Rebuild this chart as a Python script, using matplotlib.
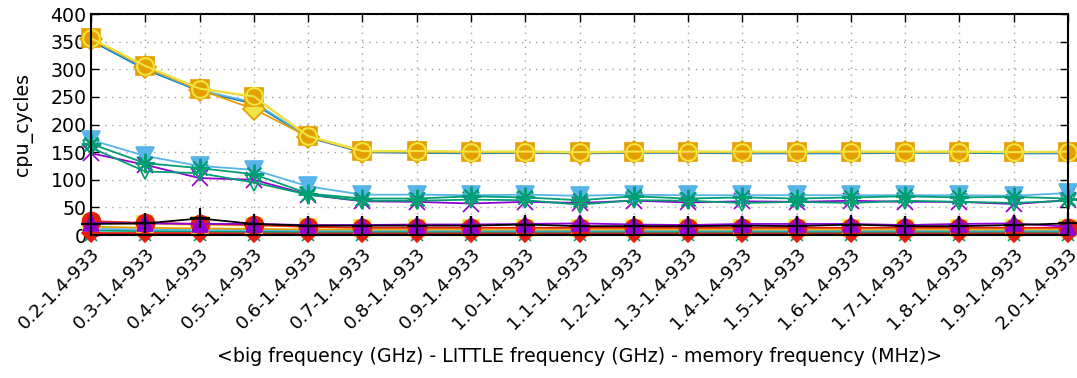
import matplotlib
matplotlib.use("Agg")
import matplotlib.pyplot as plt
import numpy as np

categories = ['0.2-1.4-933', '0.3-1.4-933', '0.4-1.4-933', '0.5-1.4-933', '0.6-1.4-933',
              '0.7-1.4-933', '0.8-1.4-933', '0.9-1.4-933', '1.0-1.4-933', '1.1-1.4-933',
              '1.2-1.4-933', '1.3-1.4-933', '1.4-1.4-933', '1.5-1.4-933', '1.6-1.4-933',
              '1.7-1.4-933', '1.8-1.4-933', '1.9-1.4-933', '2.0-1.4-933']

# top group
top_darkblue = [352, 300, 261, 238, 177, 150, 149, 148, 149, 148, 149, 149, 148, 148, 148, 149, 149, 148, 148]
top_lightblue = [354, 302, 262, 240, 178, 151, 150, 149, 150, 149, 150, 150, 149, 149, 149, 150, 150, 149, 149]
top_diamond = [355, 304, 263, 228, 178, 151, 151, 150, 150, 149, 150, 150, 150, 150, 150, 150, 150, 150, 150]
top_square = [356, 305, 265, 250, 179, 152, 152, 150, 151, 150, 151, 151, 150, 150, 151, 150, 151, 150, 150]
top_circle = [356, 306, 265, 251, 179, 152, 152, 151, 151, 150, 151, 151, 151, 151, 151, 151, 151, 150, 151]

# middle group
mid_lightblue = [172, 143, 125, 118, 88, 73, 73, 72, 73, 71, 73, 72, 72, 72, 72, 72, 72, 71, 76]
mid_green_star = [165, 130, 121, 110, 75, 66, 66, 70, 68, 63, 70, 66, 68, 66, 68, 70, 68, 69, 66]
mid_green_tri = [158, 115, 112, 95, 73, 62, 62, 64, 63, 55, 63, 62, 58, 60, 58, 62, 60, 58, 62]
mid_purple_x = [148, 127, 103, 100, 73, 61, 60, 57, 60, 58, 62, 59, 61, 60, 62, 60, 60, 56, 63]

# bottom group
low_black_plus = [20, 21, 30, 20, 17, 17, 17, 17, 19, 16, 16, 16, 17, 16, 19, 16, 16, 18, 21]
low_purple_tri = [22, 21, 20, 20, 18, 18, 19, 19, 20, 21, 19, 18, 20, 20, 20, 18, 20, 21, 15]
low_red_circle = [25, 22, 20, 18, 15, 13, 13, 13, 13, 13, 13, 13, 13, 13, 13, 13, 13, 13, 13]
low_yellow_square = [22, 20, 18, 17, 15, 12, 12, 12, 12, 12, 12, 12, 12, 12, 12, 12, 12, 12, 12]
low_orange = [15, 13, 12, 11, 10, 10, 10, 10, 10, 10, 10, 10, 10, 10, 10, 10, 10, 10, 10]
low_lightblue = [11, 10, 9, 9, 8, 8, 8, 8, 8, 8, 8, 8, 8, 8, 8, 8, 8, 8, 8]
low_green = [8, 7, 7, 6, 6, 6, 6, 6, 6, 6, 6, 6, 6, 6, 6, 6, 6, 6, 6]
low_red_diamond = [4, 4, 4, 4, 4, 4, 4, 4, 4, 4, 4, 4, 4, 4, 4, 4, 4, 4, 4]
low_black = [2, 2, 2, 2, 2, 2, 2, 2, 2, 2, 2, 2, 2, 2, 2, 2, 2, 2, 2]
low_green_x = [0.5, 0.5, 0.5, 0.5, 0.5, 0.5, 0.5, 0.5, 0.5, 0.5, 0.5, 0.5, 0.5, 0.5, 0.5, 0.5, 0.5, 0.5, 0.5]

PURPLE = '#9400d3'
GREEN = '#009e73'
LBLUE = '#56b4e9'
ORANGE = '#e69f00'
YELLOW = '#f0e442'
DBLUE = '#0072b2'
RED = '#e51e10'
BLACK = '#000000'

plt.rcParams['font.family'] = ['DejaVu Sans']
FS = 13.7

fig = plt.figure(figsize=(10.77, 3.78), dpi=100)
ax = fig.add_axes([91 / 1077, 1 - 235 / 378, (1068 - 91) / 1077, (235 - 14) / 378])
x = np.arange(len(categories))

lw = 1.3
ms = 12


def plot(vals, color, marker, ms=ms, mfc=None, mew=1.2, lw=lw, z=2):
    ax.plot(x, vals, color=color, marker=marker, markersize=ms,
            markerfacecolor=(color if mfc is None else mfc), markeredgecolor=color,
            markeredgewidth=mew, linewidth=lw, zorder=z, clip_on=False)


# bottom group
plot(low_green_x, GREEN, 'x', ms=8, z=2)
plot(low_black, BLACK, None, z=2.1)
plot(low_red_diamond, RED, 'D', ms=9, z=2.2)
plot(low_green, GREEN, None, z=2.3)
plot(low_lightblue, LBLUE, None, z=2.3)
plot(low_orange, ORANGE, None, z=2.3)
plot(low_yellow_square, YELLOW, 's', ms=12, z=2.4)
plot(low_red_circle, RED, 'o', ms=13, z=2.5)
plot(low_purple_tri, PURPLE, '^', ms=11, z=2.6)
plot(low_black_plus, BLACK, '+', ms=14, mew=1.6, z=2.7)

# middle group
plot(mid_purple_x, PURPLE, 'x', ms=12, z=3.0)
plot(mid_green_tri, GREEN, 'v', ms=11, mfc='none', z=3.1)
plot(mid_lightblue, LBLUE, 'v', ms=13, z=3.2)
plot(mid_green_star, GREEN, (8, 2, 0), ms=14, mew=1.4, z=3.3)

# top group
plot(top_darkblue, DBLUE, None, lw=1.5, z=4.0)
plot(top_lightblue, LBLUE, '^', ms=8, z=4.05)
plot(top_diamond, ORANGE, 'D', ms=11, mfc=YELLOW, z=4.1)
plot(top_square, ORANGE, 's', ms=13, z=4.2)
plot(top_circle, YELLOW, 'o', ms=12, mfc='none', mew=1.5, lw=1.5, z=4.3)

ax.set_xlim(0, len(categories) - 1)
ax.set_ylim(0, 400)
ax.set_yticks(np.arange(0, 401, 50))
ax.set_xticks(x)
ax.set_xticklabels(categories, rotation=45, ha='right', va='top', rotation_mode='anchor')
ax.tick_params(axis='both', direction='in', length=6, width=1, labelsize=FS,
               top=True, right=True, colors=BLACK)
ax.tick_params(axis='x', pad=7, labelsize=13.2)
ax.tick_params(axis='y', pad=3)
ax.grid(True, linestyle=(0, (1, 4)), color='#a0a0a0', linewidth=1)
ax.set_axisbelow(True)
for s in ax.spines.values():
    s.set_linewidth(1.5)
    s.set_zorder(5)
ax.set_ylabel('cpu_cycles', fontsize=FS)
ax.yaxis.set_label_coords(-0.059, 0.5)
fig.text((91 + 1068) / 2 / 1077, 1 - 357 / 378,
         '<big frequency (GHz) - LITTLE frequency (GHz) - memory frequency (MHz)>',
         ha='center', va='center', fontsize=FS)

fig.savefig('out.png', dpi=100)
